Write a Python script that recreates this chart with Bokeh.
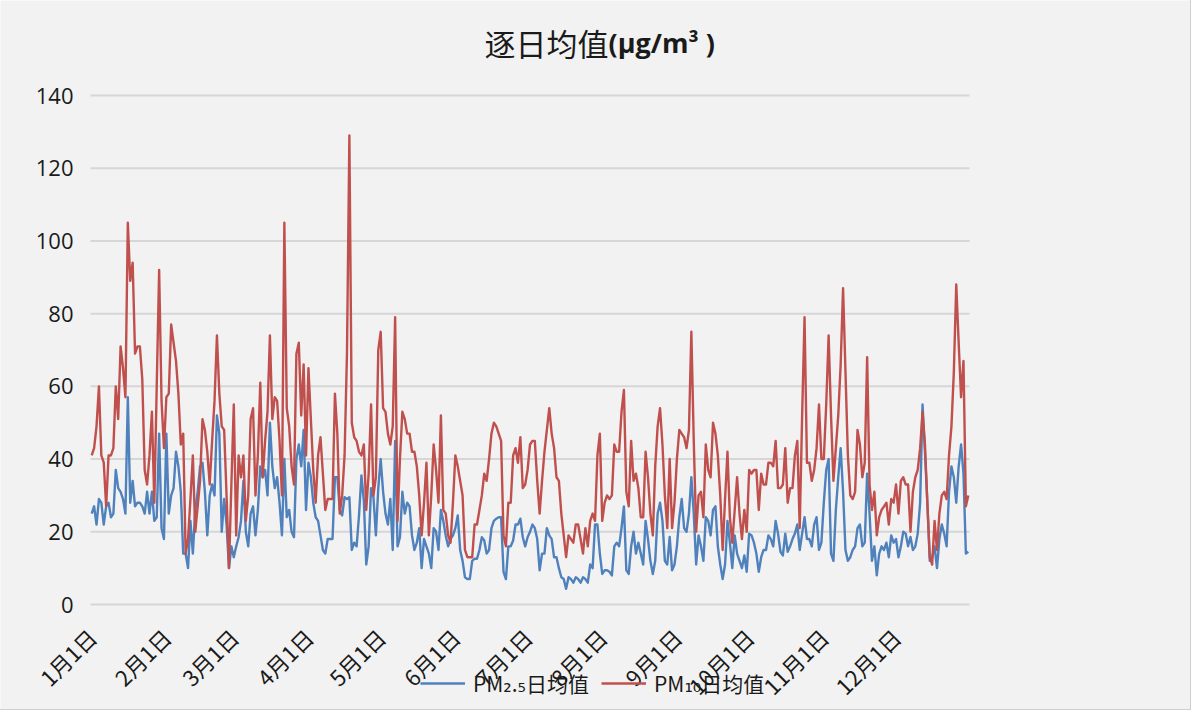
import math
from bokeh.plotting import figure
from bokeh.models import Range1d, FixedTicker, Label, Legend, LegendItem
from bokeh.embed import file_html
from bokeh.resources import INLINE

# ---------------- data ----------------
month_labels = ["1月1日", "2月1日", "3月1日", "4月1日", "5月1日", "6月1日",
                "7月1日", "8月1日", "9月1日", "10月1日", "11月1日", "12月1日"]
month_lengths = [31, 28, 31, 30, 31, 30, 31, 31, 30, 31, 30, 31]

pm10_jan = [41, 43, 49, 60, 41, 39, 27, 41, 41, 43, 60, 51, 71, 65, 57, 105, 89, 94, 69, 71,
            71, 62, 37, 33, 41, 53, 28, 60, 92, 56, 43]
pm10_feb = [57, 58, 77, 72, 67, 58, 44, 47, 14, 18, 29, 41, 20, 27, 34, 51, 48, 42, 33, 45,
            56, 74, 58, 49, 48, 30, 10, 33]
pm10_mar = [55, 19, 41, 35, 41, 23, 30, 51, 54, 30, 41, 61, 35, 45, 53, 74, 51, 57, 56, 45,
            30, 105, 54, 49, 38, 33, 69, 72, 52, 66, 41]
pm10_apr = [65, 51, 37, 28, 41, 46, 36, 26, 29, 29, 29, 58, 47, 25, 30, 41, 69, 129, 50, 46,
            45, 42, 41, 44, 26, 36, 55, 30, 35, 70]
pm10_may = [75, 54, 53, 47, 44, 49, 79, 23, 40, 53, 51, 47, 47, 42, 42, 38, 30, 19, 28, 39,
            19, 30, 44, 37, 28, 52, 26, 25, 19, 17, 28]
pm10_jun = [41, 38, 34, 30, 15, 13, 13, 13, 22, 22, 26, 30, 36, 34, 40, 47, 50, 49, 47, 45,
            19, 16, 28, 28, 41, 43, 39, 46, 32, 33]
pm10_jul = [37, 44, 45, 45, 34, 25, 34, 42, 48, 54, 47, 43, 35, 34, 25, 19, 13, 19, 18, 17,
            22, 22, 18, 14, 21, 16, 23, 25, 23, 41, 47]
pm10_aug = [23, 28, 30, 29, 30, 44, 42, 42, 53, 59, 31, 27, 45, 34, 36, 32, 24, 24, 42, 35,
            25, 19, 38, 49, 54, 44, 30, 21, 40, 21, 28]
pm10_sep = [40, 48, 47, 46, 43, 48, 75, 45, 20, 30, 31, 24, 44, 37, 35, 50, 47, 41, 30, 15,
            29, 42, 24, 17, 26, 35, 25, 18, 26, 20]
pm10_oct = [37, 36, 37, 37, 26, 36, 33, 33, 39, 39, 38, 45, 32, 32, 33, 43, 28, 32, 32, 41,
            45, 21, 52, 79, 39, 39, 34, 37, 43, 55, 40]
pm10_nov = [40, 55, 74, 52, 34, 43, 52, 66, 87, 64, 41, 30, 29, 31, 48, 44, 35, 39, 68, 33,
            26, 31, 19, 24, 26, 27, 28, 22, 29, 28]
pm10_dec = [33, 25, 34, 35, 33, 33, 20, 31, 35, 37, 43, 53, 44, 28, 13, 11, 23, 15, 25, 30,
            31, 29, 41, 49, 64, 88, 72, 57, 67, 27, 30]

pm25_jan = [25, 27, 22, 29, 28, 22, 27, 28, 24, 25, 37, 32, 31, 29, 25, 57, 28, 34, 27, 28,
            28, 27, 25, 31, 25, 31, 23, 24, 47, 21, 18]
pm25_feb = [47, 25, 30, 32, 42, 38, 31, 14, 14, 10, 23, 14, 26, 31, 38, 39, 31, 19, 30, 33,
            30, 52, 47, 20, 29, 22, 10, 16]
pm25_mar = [13, 16, 18.5, 23, 34, 20, 16, 25, 27, 19, 26, 38, 35, 37, 30, 50, 38, 32, 35, 28,
            19, 40, 24, 26, 20, 18.5, 40, 44, 38, 48, 26]
pm25_apr = [39, 35, 28, 24, 23, 19, 15, 14, 18, 18, 18, 35, 35, 26, 24.5, 29.5, 29, 29.5, 15, 17,
            16, 24.5, 35.5, 28.6, 11, 16, 32, 29.5, 19, 32]
pm25_may = [40, 31, 25, 22, 29, 15, 45, 16, 18.5, 31, 25, 28, 27, 19, 15, 17, 21, 10, 18, 16,
            14, 10, 21, 20, 15, 26, 23, 19, 16, 18, 19]
pm25_jun = [21, 24.5, 15, 12, 7.5, 7, 7, 12, 12.6, 12.6, 15, 18.5, 17.6, 14, 15, 21, 23, 23.6, 24, 24,
            9, 7, 16, 16, 17.6, 22, 22, 23.6, 18.5, 16]
pm25_jul = [18.5, 20, 22, 21, 18, 9.4, 14, 14, 21, 19, 18, 13, 13, 10, 7.5, 7, 4.3, 7.5, 7, 6,
            7.5, 7, 6, 7.5, 7, 6, 11, 10, 22, 22, 14]
pm25_aug = [8.4, 9.4, 9.4, 9, 8, 16, 17, 16, 21, 27, 9.4, 8.4, 16, 20, 14, 17, 14, 11, 23, 18,
            12, 8.4, 12, 25, 28, 23, 12, 11, 18.6, 9.4, 11]
pm25_sep = [16, 24, 29, 21, 20, 25, 35, 25, 11, 19, 16, 12, 24, 23, 19, 26, 27, 16, 11, 7,
            11, 23, 17, 10, 19, 14, 12, 10, 13.5, 9]
pm25_oct = [19.5, 19, 17, 14, 9, 13, 15, 15, 19, 18, 16, 23, 19.5, 14.5, 13.5, 19.5, 14.5, 16, 18, 19.5,
            22, 15, 19.5, 24, 18, 18, 16, 22, 24, 15, 17]
pm25_nov = [28, 37, 40, 14, 12, 26, 35, 43, 31, 15, 12, 13, 15, 16, 21, 22, 16, 17, 36, 25,
            12, 16, 8, 14, 16, 15, 17, 13, 19, 17]
pm25_dec = [18, 13, 16, 20, 19.5, 16, 18.6, 15, 16, 19.5, 28, 55, 42, 28, 12, 13, 16, 10, 18, 22,
            19.5, 16, 31, 38, 35, 28, 38, 44, 36, 14, 14.5]

y_ticks = [0, 20, 40, 60, 80, 100, 120, 140]
title_cn = "逐日均值"
title_unit = "(μg/m³ )"
label_pm25 = "PM₂.₅日均值"
label_pm10 = "PM₁₀日均值"

pm10 = (pm10_jan + pm10_feb + pm10_mar + pm10_apr + pm10_may + pm10_jun +
        pm10_jul + pm10_aug + pm10_sep + pm10_oct + pm10_nov + pm10_dec)
pm25 = (pm25_jan + pm25_feb + pm25_mar + pm25_apr + pm25_may + pm25_jun +
        pm25_jul + pm25_aug + pm25_sep + pm25_oct + pm25_nov + pm25_dec)
days10 = list(range(len(pm10)))
days25 = list(range(len(pm25)))
n_days = sum(month_lengths)

month_starts = []
acc = 0
for m in month_lengths:
    month_starts.append(acc)
    acc += m

# ---------------- layout geometry (pixels of the whole canvas) ----------------
W, H = 1190, 709
PLOT_LEFT, PLOT_RIGHT = 90, 969          # pixel columns of the plotting area
ZERO_Y, TOP_Y = 604, 95                  # pixel rows of 0 and 140
ppd = (PLOT_RIGHT - PLOT_LEFT) / n_days  # pixels per day
ppu = (ZERO_Y - TOP_Y) / 140.0           # pixels per unit
x_first, x_last = -0.5, n_days - 0.5
x_lo = x_first - PLOT_LEFT / ppd
x_hi = x_last + (W - PLOT_RIGHT) / ppd
y_hi = ZERO_Y / ppu
y_lo = -(H - ZERO_Y) / ppu


def px_to_x(px):
    return x_lo + px / ppd


def py_to_y(py):
    return y_hi - py / ppu


BG = "#f2f2f2"
GRID = "#d6d6d6"
p = figure(width=W, height=H, output_backend="svg", toolbar_location=None,
           x_range=Range1d(x_lo, x_hi), y_range=Range1d(y_lo, y_hi),
           min_border_left=0, min_border_right=0, min_border_top=0, min_border_bottom=0,
           background_fill_color=BG, border_fill_color=BG)
p.outline_line_color = None
p.styles = {"outline": "1px solid #cfcfcf"}

# horizontal grid lines limited to the plotting area
p.xgrid.visible = False
p.ygrid.visible = False
p.segment(x0=[x_first] * len(y_ticks), y0=y_ticks, x1=[x_last] * len(y_ticks), y1=y_ticks,
          line_color=GRID, line_width=2)

r25 = p.line(days25, pm25, line_color="#4f81bd", line_width=2.4, line_join="round")
r10 = p.line(days10, pm10, line_color="#c0504d", line_width=2.4, line_join="round")

# axes drawn at fixed positions inside the canvas
p.yaxis.ticker = FixedTicker(ticks=y_ticks)
p.yaxis.fixed_location = x_first
p.xaxis.ticker = FixedTicker(ticks=month_starts)
p.xaxis.major_label_overrides = {s: lab for s, lab in zip(month_starts, month_labels)}
p.xaxis.major_label_orientation = math.pi / 4
p.xaxis.fixed_location = 0
for ax in (p.xaxis[0], p.yaxis[0]):
    ax.axis_line_color = None
    ax.major_tick_line_color = None
    ax.minor_tick_line_color = None
    ax.major_tick_out = 0
    ax.major_tick_in = 0
    ax.major_label_text_color = "#1a1a1a"
p.yaxis.major_label_text_font = "Open Sans"
p.yaxis.major_label_text_font_size = "22px"
p.yaxis.major_label_standoff = 17
p.xaxis.major_label_text_font = "Noto Sans CJK SC"
p.xaxis.major_label_text_font_size = "22px"
p.xaxis.major_label_standoff = 28

# title (two parts meeting at the same point)
title_y = py_to_y(42)
title_x = px_to_x(608)
p.add_layout(Label(x=title_x, y=title_y, text=title_cn,
                   text_font="Noto Sans CJK SC", text_font_size="31px",
                   text_baseline="middle", text_align="right", text_color="#1a1a1a"))
p.add_layout(Label(x=title_x, y=title_y, text=title_unit,
                   text_font="Open Sans", text_font_style="bold", text_font_size="27px",
                   text_baseline="middle", text_align="left", text_color="#1a1a1a"))

legend = Legend(items=[LegendItem(label=label_pm25, renderers=[r25]),
                       LegendItem(label=label_pm10, renderers=[r10])],
                orientation="horizontal", location=(420, 11),
                background_fill_alpha=0, border_line_alpha=0, padding=0, margin=0,
                spacing=12, glyph_width=45, glyph_height=26, label_standoff=8,
                label_text_font="Noto Sans CJK SC, DejaVu Sans", label_text_font_size="21px",
                label_text_color="#1a1a1a", label_height=26)
p.add_layout(legend)

open("out.html", "w").write(file_html(p, INLINE))
